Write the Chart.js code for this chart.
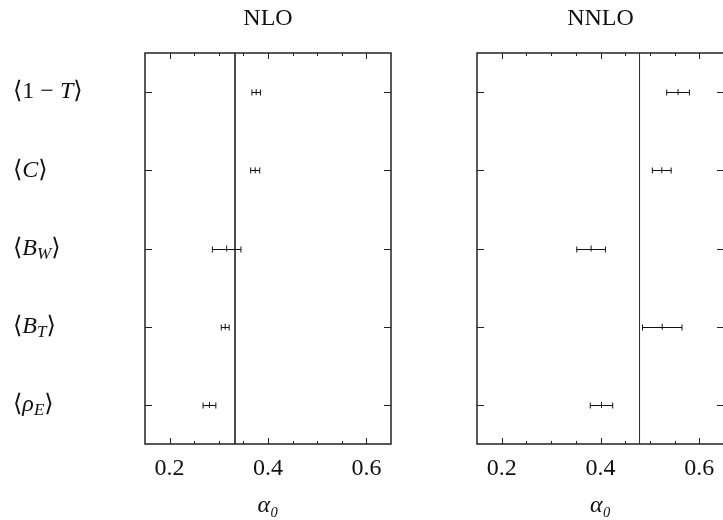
<!DOCTYPE html>
<html>
<head>
<meta charset="utf-8">
<script src="https://cdn.jsdelivr.net/npm/chart.js@4.4.1/dist/chart.umd.min.js"></script>
<style>
  html, body { margin: 0; padding: 0; background: #fff; overflow: hidden; width: 723px; height: 520px; }
  canvas { position: absolute; top: 0; }
  #nlo { left: 0; }
  #nnlo { left: 410px; }
</style>
</head>
<body>
<canvas id="nlo" width="410" height="520"></canvas>
<canvas id="nnlo" width="330" height="520"></canvas>
<script>
const SERIF = '"Liberation Serif", "DejaVu Serif", serif';

// ---------- data ----------
const observables = ['⟨1 − T⟩', '⟨C⟩', '⟨B_W⟩', '⟨B_T⟩', '⟨ρ_E⟩'];
const nloAlpha = [0.376, 0.374, 0.316, 0.313, 0.281];
const nloErr   = [0.0086, 0.0092, 0.029, 0.008, 0.013];
const nloMean  = 0.333;
const nnloAlpha = [0.557, 0.524, 0.381, 0.525, 0.402];
const nnloErr   = [0.023, 0.019, 0.029, 0.040, 0.0227];
const nnloMean  = 0.479;
const xTicks = [0.2, 0.4, 0.6];

function isMajor(v) {
  return xTicks.some(t => Math.abs(t - v) < 1e-6);
}

function drawMathLabel(ctx, text, x, y) {
  let cx = x;
  for (let i = 0; i < text.length; i++) {
    let ch = text[i], sub = false;
    if (ch === '_') { sub = true; ch = text[++i]; }
    const italic = /[A-Zρ]/.test(ch);
    ctx.font = (italic ? 'italic ' : '') + (sub ? '17px ' : '24px ') + SERIF;
    ctx.fillText(ch, cx, sub ? y + 6 : y);
    cx += ctx.measureText(ch).width;
  }
}

// frame, mirrored ticks, error bars, titles, row labels
const decor = {
  id: 'decor',
  afterDatasetsDraw(chart, args, opts) {
    const ctx = chart.ctx, x = chart.scales.x, y = chart.scales.y;
    const a = chart.chartArea;
    ctx.save();
    // error bars
    ctx.strokeStyle = '#111';
    ctx.lineWidth = 1;
    opts.centers.forEach((c, i) => {
      const py = Math.round(y.getPixelForValue(i + 0.5)) + 0.5;
      const lo = x.getPixelForValue(c - opts.errs[i]);
      const hi = x.getPixelForValue(c + opts.errs[i]);
      ctx.beginPath();
      ctx.moveTo(lo, py); ctx.lineTo(hi, py);
      ctx.moveTo(lo, py - 3); ctx.lineTo(lo, py + 3);
      ctx.moveTo(hi, py - 3); ctx.lineTo(hi, py + 3);
      ctx.stroke();
    });
    // ticks
    ctx.strokeStyle = '#222';
    x.ticks.forEach(t => {
      if (t.value <= x.min + 1e-6 || t.value >= x.max - 1e-6) return;
      const px = Math.round(x.getPixelForValue(t.value)) + 0.5;
      const len = isMajor(t.value) ? 6 : 3;
      ctx.beginPath();
      ctx.moveTo(px, a.bottom); ctx.lineTo(px, a.bottom - len);
      ctx.moveTo(px, a.top); ctx.lineTo(px, a.top + len);
      ctx.stroke();
    });
    opts.centers.forEach((c, i) => {
      const py = Math.round(y.getPixelForValue(i + 0.5)) + 0.5;
      ctx.beginPath();
      ctx.moveTo(a.left, py); ctx.lineTo(a.left + 7, py);
      ctx.moveTo(a.right, py); ctx.lineTo(a.right - 7, py);
      ctx.stroke();
    });
    // frame
    ctx.lineWidth = 1.5;
    ctx.strokeRect(a.left, a.top, a.right - a.left, a.bottom - a.top);
    // title
    ctx.fillStyle = '#111';
    ctx.font = '24px ' + SERIF;
    ctx.textAlign = 'center';
    ctx.textBaseline = 'alphabetic';
    ctx.fillText(opts.title, (a.left + Math.min(a.right, 724 - chart.canvas.offsetLeft)) / 2, 25);
    // row labels
    if (opts.rowLabels) {
      ctx.textAlign = 'left';
      ctx.textBaseline = 'middle';
      observables.forEach((lab, i) => {
        drawMathLabel(ctx, lab, 13, y.getPixelForValue(i + 0.5));
      });
    }
    ctx.restore();
  }
};

function makePanel(id, title, centers, errs, mean, pad, rowLabels) {
  new Chart(document.getElementById(id), {
    type: 'scatter',
    data: {
      datasets: [
        {
          data: centers.map((c, i) => ({ x: c, y: i + 0.5 })),
          pointStyle: 'line',
          rotation: 90,
          radius: 3,
          borderColor: '#111',
          borderWidth: 1,
          backgroundColor: '#111',
        },
        {
          data: [{ x: mean, y: 0 }, { x: mean, y: 5 }],
          showLine: true,
          pointRadius: 0,
          borderColor: '#333',
          borderWidth: 1,
        }
      ]
    },
    options: {
      responsive: false,
      animation: false,
      layout: { padding: pad },
      plugins: {
        legend: { display: false },
        tooltip: { enabled: false },
        decor: { title, centers, errs, rowLabels },
      },
      scales: {
        x: {
          type: 'linear',
          min: 0.15, max: 0.65,
          grid: { display: false, drawTicks: false },
          border: { display: false },
          ticks: {
            stepSize: 0.05,
            autoSkip: false,
            maxRotation: 0,
            padding: 10,
            color: '#111',
            font: { family: SERIF, size: 24 },
            callback: (v) => isMajor(v) ? v.toFixed(1) : '',
          },
          title: {
            display: true,
            text: 'α₀',
            color: '#111',
            font: { family: SERIF, size: 24, style: 'italic' },
            padding: 0,
          },
          afterFit: (s) => { s.height = 76; },
        },
        y: {
          type: 'linear',
          min: 0, max: 5,
          reverse: true,
          display: false,
        }
      }
    },
    plugins: [decor]
  });
}

makePanel('nlo', 'NLO', nloAlpha, nloErr, nloMean, { left: 145, right: 19, top: 53, bottom: 0 }, true);
makePanel('nnlo', 'NNLO', nnloAlpha, nnloErr, nnloMean, { left: 67, right: 16, top: 53, bottom: 0 }, false);
</script>
</body>
</html>
